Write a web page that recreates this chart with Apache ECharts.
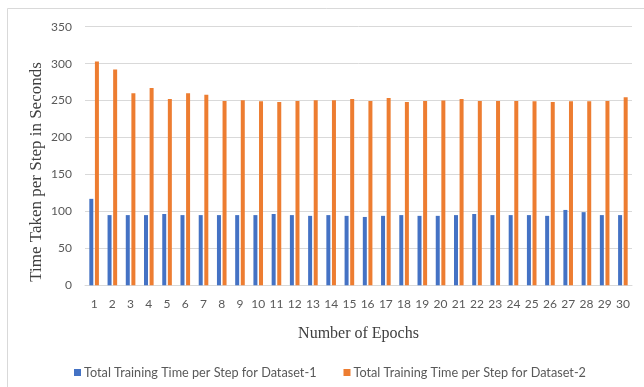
<!DOCTYPE html>
<html>
<head>
<meta charset="utf-8">
<script src="https://cdn.jsdelivr.net/npm/echarts@6/dist/echarts.min.js"></script>
<style>
  html, body { margin: 0; padding: 0; background: #fff; }
  #chart { width: 644px; height: 387px; }
</style>
</head>
<body>
<div id="chart"></div>
<script>
// Epoch numbers on the category axis
const epochs = ['1','2','3','4','5','6','7','8','9','10','11','12','13','14','15',
                '16','17','18','19','20','21','22','23','24','25','26','27','28','29','30'];

// Seconds per step, dataset 1
const dataset1 = [117, 95, 95, 95, 96.5, 95, 95, 95, 95, 95, 96.5, 95, 94, 95, 94,
                  92.5, 94, 95, 94, 94, 95, 96.5, 95, 95, 95, 94, 102, 99, 95, 95];

// Seconds per step, dataset 2
const dataset2 = [303, 292, 260, 267, 252, 260, 258, 249.5, 250.5, 249, 248, 249.5, 250.5, 250.5, 252,
                  249.5, 253.5, 248, 249.5, 250, 252, 249.5, 249.5, 249.5, 249, 248, 249, 249, 249.5, 254.5];

const seriesNames = [
  'Total Training Time per Step for Dataset-1',
  'Total Training Time per Step for Dataset-2'
];

const yTitle = 'Time Taken per Step in Seconds';

const sansFont = 'Lato';
const serifFont = 'Liberation Serif';

const chart = echarts.init(document.getElementById('chart'), null, { renderer: 'canvas' });

chart.setOption({
  animation: false,
  backgroundColor: '#ffffff',
  graphic: [
    {
      type: 'rect',
      shape: { x: 7.5, y: 8.5, width: 640, height: 390 },
      style: { fill: 'none', stroke: '#d9d9d9', lineWidth: 1 },
      silent: true,
      z: -1
    },
    {
      // vertical value-axis title
      type: 'text',
      x: 37,
      y: 172,
      rotation: Math.PI / 2,
      style: {
        text: yTitle,
        fontFamily: serifFont,
        fontSize: 17,
        fill: '#404040',
        align: 'center',
        verticalAlign: 'middle'
      },
      silent: true
    }
  ],
  grid: { left: 85, right: 12, top: 26.7, bottom: 101.7, containLabel: false },
  legend: {
    top: 361,
    left: 69,
    itemWidth: 7,
    itemHeight: 7,
    itemGap: 27,
    icon: 'rect',
    textStyle: { fontFamily: sansFont, fontSize: 12.7, color: '#595959', padding: [0, 0, 0, -2] },
    data: seriesNames
  },
  xAxis: {
    type: 'category',
    data: epochs,
    name: 'Number of Epochs',
    nameLocation: 'middle',
    nameGap: 40,
    nameTextStyle: { fontFamily: serifFont, fontSize: 16, color: '#404040' },
    axisLine: { show: true, lineStyle: { color: '#d9d9d9', width: 1 } },
    axisTick: { show: false },
    axisLabel: { fontFamily: sansFont, fontSize: 12, color: '#595959', margin: 13, interval: 0 }
  },
  yAxis: {
    type: 'value',
    min: 0,
    max: 350,
    interval: 50,
    axisLine: { show: false },
    axisTick: { show: false },
    axisLabel: { fontFamily: sansFont, fontSize: 12, color: '#595959', margin: 13 },
    splitLine: { lineStyle: { color: '#d9d9d9', width: 1 } }
  },
  series: [
    {
      name: seriesNames[0],
      type: 'bar',
      data: dataset1,
      barWidth: 4,
      barGap: '40%',
      itemStyle: { color: '#4472c4' }
    },
    {
      name: seriesNames[1],
      type: 'bar',
      data: dataset2,
      barWidth: 4,
      barGap: '40%',
      itemStyle: { color: '#ed7d31' }
    }
  ]
});
</script>
</body>
</html>
